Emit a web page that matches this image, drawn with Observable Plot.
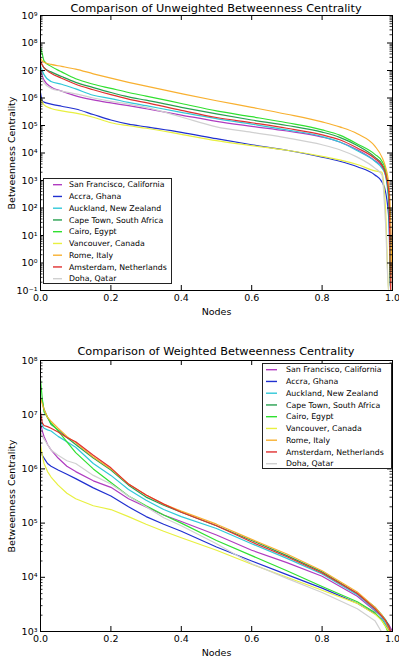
<!DOCTYPE html>
<html>
<head>
<meta charset="utf-8">
<script src="https://cdn.jsdelivr.net/npm/d3@7"></script>
<script src="https://cdn.jsdelivr.net/npm/@observablehq/plot@0.6"></script>
<style>
  html, body { margin: 0; padding: 0; background: #fff; }
  #wrap { position: relative; width: 399px; height: 658px; font-family: "DejaVu Sans", sans-serif; color: #000; overflow: hidden; }
  .title { position: absolute; left: 40px; width: 352px; text-align: center; font-size: 11.3px; line-height: 14px; white-space: nowrap; }
  .legend { position: absolute; }
  .plot { position: absolute; left: 0; }
</style>
</head>
<body>
<div id="wrap"></div>
<script>
// ---------- data ----------
const cities = ["San Francisco, California", "Accra, Ghana", "Auckland, New Zealand", "Cape Town, South Africa", "Cairo, Egypt", "Vancouver, Canada", "Rome, Italy", "Amsterdam, Netherlands", "Doha, Qatar"];
const colors = ["#b03cc0", "#2030d0", "#30c8d8", "#28a050", "#30e030", "#e8f040", "#f8b030", "#e03030", "#d0d0d0"];

const xTicks = [0, 0.2, 0.4, 0.6, 0.8, 1.0];
const yTicksUnweighted = [1e-1, 1e0, 1e1, 1e2, 1e3, 1e4, 1e5, 1e6, 1e7, 1e8, 1e9];
const yTicksWeighted = [1e3, 1e4, 1e5, 1e6, 1e7, 1e8];

// Unweighted betweenness (log10 of value), node fraction positions
const unwX = [0, 0.005, 0.01, 0.03, 0.06, 0.1, 0.15, 0.2, 0.25, 0.3, 0.4, 0.5, 0.6, 0.7, 0.8, 0.85, 0.9, 0.95, 0.97, 0.98, 0.99, 0.995, 1.0];
const unwSanFrancisco = [7.0, 6.8, 6.65, 6.4, 6.25, 6.08, 5.93, 5.82, 5.72, 5.61, 5.38, 5.15, 4.97, 4.8, 4.58, 4.4, 4.12, 3.72, 3.5, 3.2, 2.3, 1.0, -1.2];
const unwAccra = [6.2, 5.9, 5.85, 5.78, 5.7, 5.6, 5.4, 5.2, 5.05, 4.95, 4.75, 4.52, 4.3, 4.1, 3.85, 3.7, 3.5, 3.2, 2.95, 2.6, 1.5, -1.2, -1.2];
const unwAuckland = [7.15, 7.0, 6.85, 6.6, 6.5, 6.33, 6.1, 5.98, 5.84, 5.72, 5.48, 5.25, 5.05, 4.84, 4.6, 4.4, 4.08, 3.7, 3.45, 3.2, 2.0, -1.2, -1.2];
const unwCapeTown = [7.3, 7.2, 7.1, 6.95, 6.78, 6.57, 6.38, 6.2, 6.04, 5.92, 5.66, 5.42, 5.2, 5.0, 4.76, 4.57, 4.27, 3.85, 3.6, 3.3, 2.3, -1.2, -1.2];
const unwCairo = [7.85, 7.6, 7.35, 7.15, 6.95, 6.7, 6.5, 6.35, 6.2, 6.07, 5.8, 5.53, 5.32, 5.1, 4.84, 4.65, 4.33, 3.95, 3.7, 3.4, 2.5, -1.2, -1.2];
const unwVancouver = [6.0, 5.85, 5.75, 5.62, 5.53, 5.45, 5.3, 5.1, 4.99, 4.9, 4.68, 4.45, 4.27, 4.1, 3.88, 3.75, 3.58, 3.35, 3.3, 2.0, -1.2, -1.2, -1.2];
const unwRome = [7.45, 7.35, 7.3, 7.22, 7.15, 7.05, 6.88, 6.72, 6.57, 6.43, 6.16, 5.9, 5.66, 5.41, 5.13, 4.95, 4.7, 4.25, 3.85, 3.5, 2.8, 1.5, -1.2];
const unwAmsterdam = [7.35, 7.2, 7.1, 6.9, 6.72, 6.5, 6.3, 6.12, 5.96, 5.83, 5.55, 5.29, 5.1, 4.9, 4.66, 4.48, 4.18, 3.8, 3.55, 3.25, 2.5, -1.2, -1.2];
const unwDoha = [6.9, 6.7, 6.55, 6.35, 6.25, 6.15, 6.0, 5.88, 5.78, 5.66, 5.31, 4.95, 4.75, 4.55, 4.3, 4.12, 3.85, 3.45, 3.2, 1.5, -1.2, -1.2, -1.2];

// Weighted betweenness (log10 of value)
const wX = [0, 0.005, 0.01, 0.02, 0.03, 0.05, 0.075, 0.1, 0.15, 0.2, 0.25, 0.3, 0.35, 0.4, 0.5, 0.6, 0.7, 0.8, 0.9, 0.95, 0.97, 0.98, 0.99, 1.0];
const wSanFrancisco = [6.85, 6.7, 6.6, 6.45, 6.35, 6.2, 6.05, 5.95, 5.78, 5.66, 5.45, 5.3, 5.15, 5.03, 4.78, 4.5, 4.27, 4.02, 3.65, 3.38, 3.28, 3.2, 3.12, 3.0];
const wAccra = [6.35, 6.25, 6.2, 6.1, 6.05, 5.98, 5.9, 5.82, 5.65, 5.5, 5.3, 5.12, 4.98, 4.85, 4.56, 4.3, 4.05, 3.8, 3.52, 3.33, 3.22, 3.12, 3.02, 2.9];
const wAuckland = [6.9, 6.8, 6.75, 6.72, 6.7, 6.6, 6.5, 6.4, 6.1, 5.88, 5.62, 5.42, 5.25, 5.12, 4.9, 4.62, 4.35, 4.06, 3.68, 3.4, 3.26, 3.15, 3.05, 2.9];
const wCapeTown = [7.3, 7.25, 7.1, 6.95, 6.82, 6.72, 6.58, 6.45, 6.2, 5.98, 5.7, 5.48, 5.33, 5.2, 4.95, 4.68, 4.4, 4.1, 3.7, 3.45, 3.3, 3.22, 3.1, 2.9];
const wCairo = [7.65, 7.3, 7.05, 6.95, 6.85, 6.7, 6.5, 6.3, 6.0, 5.75, 5.5, 5.32, 5.15, 5.0, 4.68, 4.4, 4.12, 3.83, 3.55, 3.35, 3.2, 3.1, 2.95, 2.9];
const wVancouver = [6.45, 6.25, 6.1, 5.95, 5.85, 5.7, 5.55, 5.45, 5.32, 5.25, 5.12, 4.98, 4.85, 4.73, 4.5, 4.24, 4.0, 3.76, 3.52, 3.32, 3.2, 3.1, 3.0, 2.9];
const wRome = [7.3, 7.2, 7.1, 6.95, 6.88, 6.75, 6.6, 6.48, 6.22, 6.0, 5.72, 5.52, 5.35, 5.22, 4.98, 4.7, 4.43, 4.12, 3.73, 3.45, 3.3, 3.2, 3.05, 2.9];
const wAmsterdam = [7.05, 6.85, 6.8, 6.78, 6.75, 6.68, 6.58, 6.5, 6.25, 6.02, 5.72, 5.52, 5.35, 5.2, 4.95, 4.65, 4.38, 4.08, 3.7, 3.42, 3.28, 3.2, 3.08, 2.9];
const wDoha = [6.7, 6.6, 6.55, 6.45, 6.35, 6.25, 6.15, 6.1, 5.88, 5.72, 5.5, 5.3, 5.1, 4.95, 4.62, 4.25, 3.98, 3.72, 3.42, 3.2, 2.98, 2.7, 2.5, 2.5];

const unwSeries = [unwSanFrancisco, unwAccra, unwAuckland, unwCapeTown, unwCairo, unwVancouver, unwRome, unwAmsterdam, unwDoha];
const wSeries = [wSanFrancisco, wAccra, wAuckland, wCapeTown, wCairo, wVancouver, wRome, wAmsterdam, wDoha];

function toRows(xs, series) {
  const rows = [];
  series.forEach((vals, ci) => vals.forEach((v, i) => rows.push({x: xs[i], y: Math.pow(10, v), city: cities[ci]})));
  return rows;
}

const supMap = {"-": "\u207B", "0": "\u2070", "1": "\u00B9", "2": "\u00B2", "3": "\u00B3", "4": "\u2074", "5": "\u2075", "6": "\u2076", "7": "\u2077", "8": "\u2078", "9": "\u2079"};
const fmtPow = d => "10" + String(Math.round(Math.log10(d))).split("").map(c => supMap[c]).join("");

function minorTicks(majors) {
  const out = [];
  for (let i = 0; i < majors.length - 1; i++) for (let k = 2; k <= 9; k++) out.push(majors[i] * k);
  return out;
}

function makePlot(rows, yTicks, height, mt, mb, curve) {
  const W = 399, ml = 40, mr = 7;
  const pw = W - ml - mr, ph = height - mt - mb;
  const minors = minorTicks(yTicks);
  return Plot.plot({
    width: W, height, marginLeft: ml, marginRight: mr, marginTop: mt, marginBottom: mb,
    style: {fontFamily: "DejaVu Sans", fontSize: "9.5px", color: "#000", background: "transparent", overflow: "visible"},
    x: {domain: [0, 1]},
    y: {type: "log", domain: [yTicks[0], yTicks[yTicks.length - 1]]},
    color: {domain: cities, range: colors},
    marks: [
      Plot.line(rows, {x: "x", y: "y", z: "city", stroke: "city", strokeWidth: 1.2, clip: true, curve}),
      Plot.tickX(xTicks, {x: d => d, insetTop: ph - 5, stroke: "#000"}),
      Plot.tickX(xTicks, {x: d => d, insetBottom: ph - 5, stroke: "#000"}),
      Plot.tickY(yTicks, {y: d => d, insetRight: pw - 5, stroke: "#000"}),
      Plot.tickY(yTicks, {y: d => d, insetLeft: pw - 5, stroke: "#000"}),
      Plot.tickY(minors, {y: d => d, insetRight: pw - 2.5, stroke: "#000", strokeWidth: 0.8}),
      Plot.tickY(minors, {y: d => d, insetLeft: pw - 2.5, stroke: "#000", strokeWidth: 0.8}),
      Plot.axisX(xTicks, {tickSize: 0, tickPadding: 4, tickFormat: d3.format(".1f"), label: "Nodes", labelAnchor: "center", labelArrow: "none", labelOffset: 24}),
      Plot.axisY(yTicks, {tickSize: 0, tickPadding: 3, tickFormat: fmtPow, label: "Betweenness Centrality", labelAnchor: "center", labelArrow: "none", labelOffset: 32}),
      Plot.frame({stroke: "#000", strokeWidth: 1})
    ]
  });
}

const wrap = document.getElementById("wrap");

function addTitle(text, top) {
  const d = document.createElement("div");
  d.className = "title"; d.style.top = top + "px"; d.textContent = text;
  wrap.appendChild(d);
}

function addLegend(left, top, width, height, swLeft, swW, txLeft) {
  const svg = d3.select(wrap).append("svg")
    .attr("class", "legend")
    .attr("width", width).attr("height", height)
    .style("left", left + "px").style("top", top + "px");
  svg.append("rect").attr("x", 0.5).attr("y", 0.5).attr("width", width - 1).attr("height", height - 1)
    .attr("fill", "#fff").attr("stroke", "#222").attr("stroke-width", 1);
  const g = svg.selectAll("g.r").data(cities).join("g").attr("class", "r")
    .attr("transform", (d, i) => `translate(0,${6.7 + i * 11.75})`);
  g.append("line").attr("x1", swLeft).attr("x2", swLeft + swW).attr("y1", 0).attr("y2", 0)
    .attr("stroke", (d, i) => colors[i]).attr("stroke-width", 1.4);
  g.append("text").attr("x", txLeft).attr("y", 0).attr("dy", "0.35em")
    .attr("font-family", "DejaVu Sans").attr("font-size", 7.8).attr("fill", "#000").text(d => d);
}

const p1 = makePlot(toRows(unwX, unwSeries), yTicksUnweighted, 320, 15, 30, "monotone-x");
p1.classList.add("plot"); p1.style.top = "0px";
wrap.appendChild(p1);

const p2 = makePlot(toRows(wX, wSeries), yTicksWeighted, 328, 30, 27, "linear");
p2.classList.add("plot"); p2.style.top = "330px";
wrap.appendChild(p2);

addTitle("Comparison of Unweighted Betweenness Centrality", 2);
addTitle("Comparison of Weighted Betweenness Centrality", 345);
addLegend(43, 178, 129, 106, 10, 9, 26);
addLegend(262, 363, 130, 106, 4, 11, 24);
</script>
</body>
</html>
